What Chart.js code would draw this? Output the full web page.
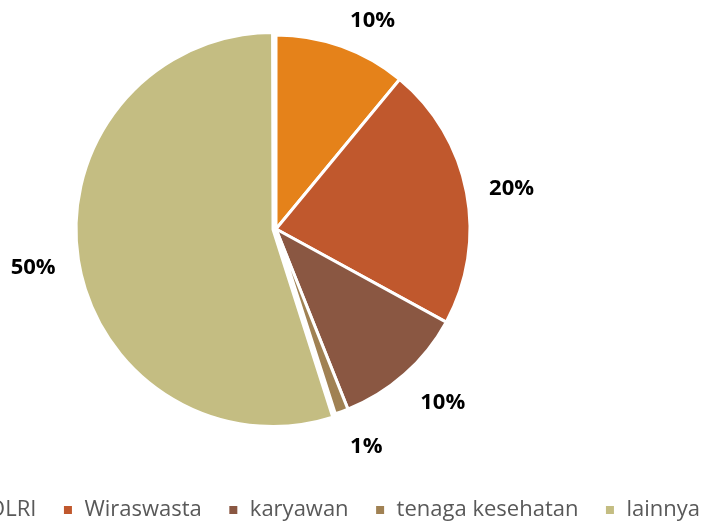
<!DOCTYPE html>
<html lang="id">
<head>
<meta charset="UTF-8">
<title>Pekerjaan</title>
<script src="https://cdn.jsdelivr.net/npm/chart.js"></script>
<style>
  html, body { margin: 0; padding: 0; background: #fff; overflow: hidden; width: 704px; height: 525px; }
  #wrap { position: absolute; left: -174px; top: -15px; width: 900px; height: 546px; }
</style>
</head>
<body>
<div id="wrap"><canvas id="pie"></canvas></div>
<script>
// kategori pekerjaan dan jumlahnya (dalam persen)
const categories = ["TNI/POLRI", "Wiraswasta", "karyawan", "tenaga kesehatan", "lainnya"];
const values = [10, 20, 10, 1, 50];
const colors = ["#E5821A", "#C0582D", "#8A5742", "#A08153", "#C4BD82"];
const offsets = [0, 0, 0, 0, 12];

// label persen di luar irisan
const outsideLabels = {
  id: "outsideLabels",
  afterDatasetsDraw(chart) {
    const ctx = chart.ctx;
    const meta = chart.getDatasetMeta(0);
    ctx.save();
    ctx.font = "bold 22px 'Open Sans'";
    ctx.fillStyle = "#000";
    ctx.textAlign = "center";
    ctx.textBaseline = "middle";
    meta.data.forEach((arc, i) => {
      const p = arc.getProps(["x", "y", "startAngle", "endAngle", "outerRadius"], true);
      const mid = (p.startAngle + p.endAngle) / 2;
      const cos = Math.cos(mid), sin = Math.sin(mid);
      const txt = values[i] + "%";
      const w = ctx.measureText(txt).width;
      const R = p.outerRadius + 22 + offsets[i] / 2;
      const x = p.x + cos * R + Math.sign(cos) * (w / 2 + 1);
      let y = p.y + sin * (R + 12) + 3;
      y = Math.max(y, 36);
      ctx.fillText(txt, x, y);
    });
    ctx.restore();
  }
};

new Chart(document.getElementById("pie"), {
  type: "pie",
  data: {
    labels: categories,
    datasets: [{
      data: values,
      backgroundColor: colors,
      borderColor: "#fff",
      borderWidth: 3,
      offset: offsets
    }]
  },
  options: {
    responsive: true,
    maintainAspectRatio: false,
    animation: false,
    radius: 194,
    plugins: {
      tooltip: { enabled: false },
      legend: {
        position: "bottom",
        align: "end",
        labels: {
          boxWidth: 11,
          boxHeight: 11,
          padding: 26,
          color: "#595959",
          font: { family: "'Open Sans'", size: 22 }
        }
      }
    }
  },
  plugins: [outsideLabels]
});
</script>
</body>
</html>
